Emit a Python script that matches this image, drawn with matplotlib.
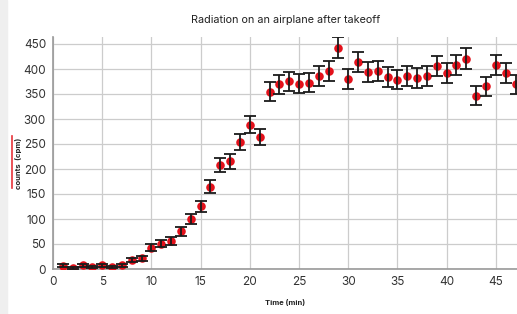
import numpy as np
import matplotlib.pyplot as plt
from matplotlib.patches import Rectangle
from matplotlib.lines import Line2D

plt.rcParams['font.family'] = ['Inter', 'DejaVu Sans']

# time (min) and counts (cpm)
minutes = list(range(1, 48))
counts = [7, 3, 8, 5, 8, 5, 8, 18, 22, 43,
          51, 56, 76, 100, 126, 165, 208, 216, 254, 289,
          265, 355, 370, 376, 371, 373, 387, 396, 443, 381,
          415, 395, 397, 385, 379, 387, 383, 387, 407, 393,
          408, 421, 347, 366, 408, 393, 370]
errors = [3, 2, 3, 2, 3, 2, 3, 4, 5, 7,
          7, 8, 9, 10, 11, 13, 14, 15, 16, 17,
          16, 19, 19, 19, 19, 19, 20, 20, 21, 20,
          20, 20, 20, 20, 19, 20, 20, 20, 20, 20,
          20, 21, 19, 19, 20, 20, 19]

fig = plt.figure(figsize=(5.17, 3.14), dpi=100)
ax = fig.add_axes([53/517, 1 - 269/314, 1 - 53/517 + 0.001, (269 - 37)/314])

# light strip on the left edge
fig.patches.append(Rectangle((0, 0), 7/517, 1, transform=fig.transFigure,
                             color='#efefef', zorder=0))
# red marker beside the y label
fig.lines.append(Line2D([12/517, 12/517], [1 - 188/314, 1 - 136/314],
                        transform=fig.transFigure, color='#e8333a', lw=1.2))

ax.scatter(minutes, counts, s=38, color='#e3111b', zorder=3, linewidths=0)
ax.errorbar(minutes, counts, yerr=errors, fmt='none', ecolor='#1a1a1a',
            elinewidth=1.3, capsize=4, capthick=1.3, zorder=4)

ax.set_xlim(0, 47.2)
ax.set_ylim(0, 464)
ax.set_xticks(range(0, 50, 5))
ax.set_yticks(range(0, 500, 50))
ax.grid(True, color='#cccccc', lw=0.9)
ax.set_axisbelow(True)
for s in ['top', 'right']:
    ax.spines[s].set_visible(False)
for s in ['left', 'bottom']:
    ax.spines[s].set_color('#999999')
    ax.spines[s].set_linewidth(1.2)
ax.tick_params(length=0, labelsize=8.5, colors='#333333', pad=5)

ax.set_title('Radiation on an airplane after takeoff', fontsize=7.8, color='#222222', pad=10)
fig.text(285/517, 1 - 302/314, 'Time (min)', fontsize=5.5, fontweight='bold',
         ha='center', va='center', color='#222222')
fig.text(19/517, 1 - 163/314, 'counts  (cpm)', fontsize=5.5, fontweight='bold',
         rotation=90, ha='center', va='center', color='#222222')

fig.savefig('out.png', dpi=100)
